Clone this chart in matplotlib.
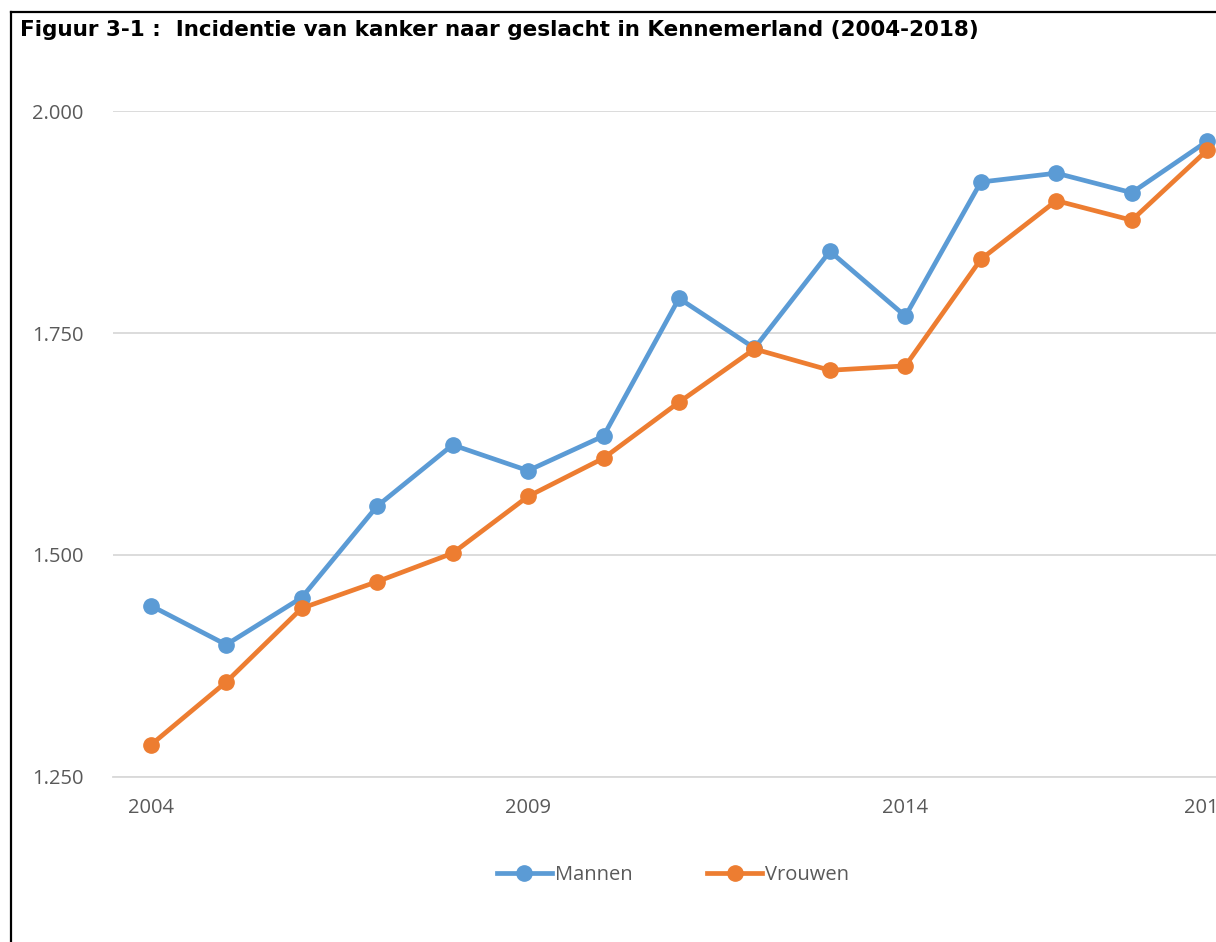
import matplotlib
matplotlib.use("Agg")
import matplotlib.pyplot as plt
from matplotlib.lines import Line2D
from matplotlib.ticker import FuncFormatter

years = list(range(2004, 2019))
mannen = [1443, 1399, 1452, 1555, 1624, 1595, 1634, 1789, 1733, 1842, 1769, 1920, 1930, 1908, 1966]
vrouwen = [1286, 1357, 1440, 1470, 1502, 1566, 1609, 1672, 1732, 1708, 1713, 1833, 1899, 1877, 1956]
xtick_years = [2004, 2009, 2014, 2018]
yticks = [1250, 1500, 1750, 2000]
title = "Figuur 3-1 :  Incidentie van kanker naar geslacht in Kennemerland (2004-2018)"

W, H = 1216, 942
fig = plt.figure(figsize=(W / 100, H / 100), dpi=100)

# axes: left 113px, right ~1245px (cropped), bottom y=777, top y=111
left, right, top, bottom = 113, 1245, 111, 777
ax = fig.add_axes([left / W, 1 - bottom / H, (right - left) / W, (bottom - top) / H])

blue = "#5B9BD5"
orange = "#ED7D31"
LW, MS = 3.4, 11
ax.plot(years, mannen, color=blue, lw=LW, marker="o", ms=MS, clip_on=False, zorder=3,
        solid_capstyle="round")
ax.plot(years, vrouwen, color=orange, lw=LW, marker="o", ms=MS, clip_on=False, zorder=4,
        solid_capstyle="round")

ax.set_xlim(2003.5, 2018.5)
ax.set_ylim(1250, 2000)
ax.set_yticks(yticks)
ax.yaxis.set_major_formatter(FuncFormatter(lambda v, p: f"{v/1000:.3f}"))
ax.set_xticks(xtick_years)
ax.grid(axis="y", color="#D9D9D9", lw=1.3)
ax.set_axisbelow(True)
for s in ["top", "right", "left"]:
    ax.spines[s].set_visible(False)
ax.spines["bottom"].set_color("#D9D9D9")
ax.spines["bottom"].set_linewidth(1.3)
ax.tick_params(length=0, labelsize=14.5, labelcolor="#595959")
ax.tick_params(axis="x", pad=15)
ax.tick_params(axis="y", pad=21)
for lab in ax.get_xticklabels() + ax.get_yticklabels():
    lab.set_fontfamily("Open Sans")

# legend
handles = [Line2D([], [], color=blue, lw=LW, marker="o", ms=MS),
           Line2D([], [], color=orange, lw=LW, marker="o", ms=MS)]
leg = fig.legend(handles, ["Mannen", "Vrouwen"], loc="center", bbox_to_anchor=(673 / W, 1 - 875 / H),
                 ncol=2, frameon=False, handlelength=2.75, handletextpad=0.15, columnspacing=3.7,
                 prop={"family": "Open Sans", "size": 14.5})
for t in leg.get_texts():
    t.set_color("#595959")

# title
fig.text(20 / W, 1 - 30 / H, title, fontsize=15.5, fontweight="bold", family="DejaVu Sans",
         va="center", ha="left", color="black")

# border lines (left and top)
fig.add_artist(Line2D([10.5 / W, 10.5 / W], [0, 1 - 12 / H], color="black", lw=1.6,
                      transform=fig.transFigure))
fig.add_artist(Line2D([10.5 / W, 1], [1 - 12 / H, 1 - 12 / H], color="black", lw=1.6,
                      transform=fig.transFigure))

fig.savefig("out.png", dpi=100)
